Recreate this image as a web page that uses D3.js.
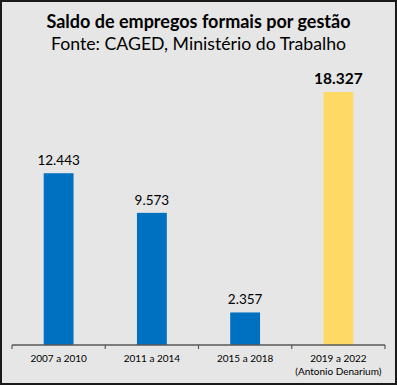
<!DOCTYPE html>
<html>
<head>
<meta charset="utf-8">
<script src="https://cdn.jsdelivr.net/npm/d3@7"></script>
<style>
  body { margin: 0; background: #fff; }
  svg { display: block; font-family: Lato, "Noto Sans", sans-serif; }
</style>
</head>
<body>
<div id="chart"></div>
<script>
const width = 397;
const height = 385;

const periods = ["2007 a 2010", "2011 a 2014", "2015 a 2018", "2019 a 2022"];
const subLabels = ["", "", "", "(Antonio Denarium)"];
const saldo = [12443, 9573, 2357, 18327];
const valueLabels = ["12.443", "9.573", "2.357", "18.327"];
const highlight = [false, false, false, true];

const margin = {left: 12, right: 12, bottom: 40};
const baseY = height - margin.bottom;

var svg = d3.select("div#chart")
  .append("svg")
  .attr("width", width)
  .attr("height", height);

svg.append("rect")
  .attr("x", 1).attr("y", 1)
  .attr("width", width - 2).attr("height", height - 2)
  .attr("fill", "#e6e6e6")
  .attr("stroke", "#1a1a1a")
  .attr("stroke-width", 2);

svg.append("text")
  .attr("x", width / 2).attr("y", 28)
  .attr("text-anchor", "middle")
  .attr("font-size", 18).attr("font-weight", "bold")
  .attr("fill", "#000")
  .text("Saldo de empregos formais por gestão");

svg.append("text")
  .attr("x", width / 2).attr("y", 50)
  .attr("text-anchor", "middle")
  .attr("font-size", 17.7)
  .attr("fill", "#000")
  .text("Fonte: CAGED, Ministério do Trabalho");

const x = d3.scaleBand()
  .domain(periods)
  .range([margin.left, width - margin.right])
  .paddingInner(0.68)
  .paddingOuter(0.34);

const y = d3.scaleLinear()
  .domain([0, 18327])
  .range([baseY, 92]);

const bars = svg.append("g");

bars.selectAll("rect")
  .data(saldo)
  .enter()
  .append("rect")
  .attr("x", (d, i) => x(periods[i]))
  .attr("y", d => y(d))
  .attr("width", x.bandwidth())
  .attr("height", d => baseY - y(d))
  .attr("fill", (d, i) => highlight[i] ? "#ffd966" : "#0070c0");

bars.selectAll("text")
  .data(saldo)
  .enter()
  .append("text")
  .attr("x", (d, i) => x(periods[i]) + x.bandwidth() / 2)
  .attr("y", d => y(d) - 8)
  .attr("text-anchor", "middle")
  .attr("font-size", (d, i) => highlight[i] ? 15.5 : 13.5)
  .attr("font-weight", (d, i) => highlight[i] ? "bold" : "normal")
  .attr("fill", "#000")
  .text((d, i) => valueLabels[i]);

// category axis
const step = (width - margin.left - margin.right) / periods.length;
const axis = svg.append("g");

axis.append("line")
  .attr("x1", margin.left).attr("x2", width - margin.right)
  .attr("y1", baseY).attr("y2", baseY)
  .attr("stroke", "#595959").attr("stroke-width", 1.5);

axis.selectAll("line.tick")
  .data(d3.range(periods.length + 1))
  .enter()
  .append("line")
  .attr("class", "tick")
  .attr("x1", i => margin.left + i * step).attr("x2", i => margin.left + i * step)
  .attr("y1", baseY).attr("y2", baseY + 4)
  .attr("stroke", "#595959").attr("stroke-width", 1.2);

axis.selectAll("text.cat")
  .data(periods)
  .enter()
  .append("text")
  .attr("class", "cat")
  .attr("x", d => x(d) + x.bandwidth() / 2)
  .attr("y", baseY + 17)
  .attr("text-anchor", "middle")
  .attr("font-size", 10)
  .attr("fill", "#000")
  .text(d => d);

axis.selectAll("text.sub")
  .data(subLabels)
  .enter()
  .append("text")
  .attr("class", "sub")
  .attr("x", (d, i) => x(periods[i]) + x.bandwidth() / 2)
  .attr("y", baseY + 30)
  .attr("text-anchor", "middle")
  .attr("font-size", 10)
  .attr("fill", "#000")
  .text(d => d);
</script>
</body>
</html>
